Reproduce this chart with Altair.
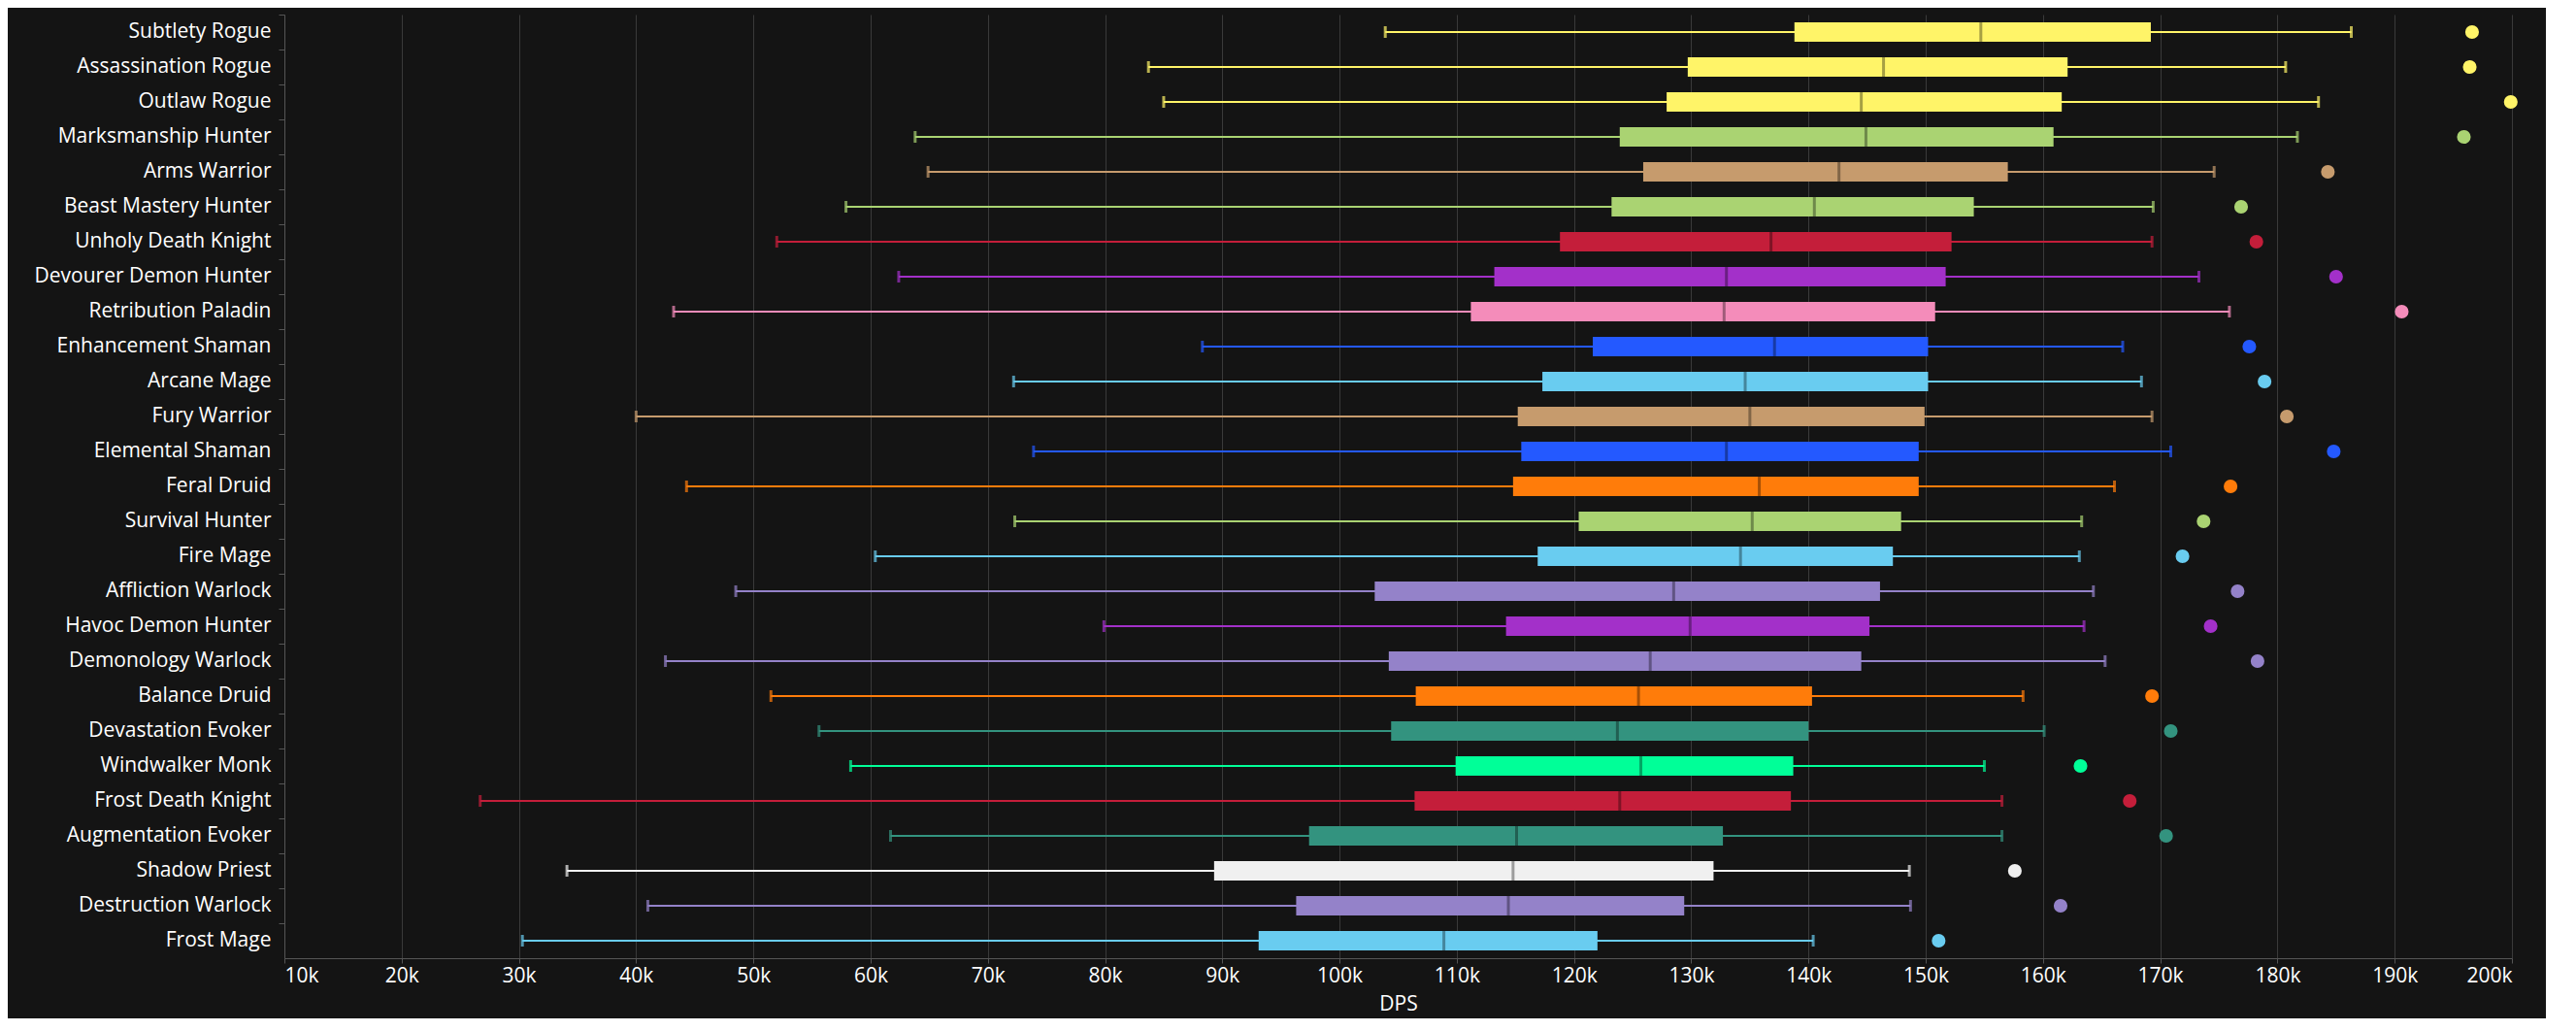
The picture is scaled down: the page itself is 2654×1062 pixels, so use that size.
import pandas as pd
import altair as alt

specs = [
    "Subtlety Rogue", "Assassination Rogue", "Outlaw Rogue", "Marksmanship Hunter",
    "Arms Warrior", "Beast Mastery Hunter", "Unholy Death Knight", "Devourer Demon Hunter",
    "Retribution Paladin", "Enhancement Shaman", "Arcane Mage", "Fury Warrior",
    "Elemental Shaman", "Feral Druid", "Survival Hunter", "Fire Mage",
    "Affliction Warlock", "Havoc Demon Hunter", "Demonology Warlock", "Balance Druid",
    "Devastation Evoker", "Windwalker Monk", "Frost Death Knight", "Augmentation Evoker",
    "Shadow Priest", "Destruction Warlock", "Frost Mage",
]
# values in k DPS
mins = [103.9, 83.7, 85.0, 63.8, 64.9, 57.9, 52.0, 62.4, 43.2, 88.3, 72.2, 40.0, 73.9, 44.3,
        72.3, 60.4, 48.5, 79.9, 42.5, 51.5, 55.6, 58.3, 26.7, 61.7, 34.1, 41.0, 30.3]
q1s = [138.8, 129.7, 127.9, 123.9, 125.9, 123.2, 118.8, 113.2, 111.2, 121.6, 117.3, 115.2, 115.5, 114.8,
       120.4, 116.9, 103.0, 114.2, 104.2, 106.5, 104.4, 109.9, 106.4, 97.4, 89.3, 96.3, 93.1]
medians = [154.7, 146.4, 144.5, 144.9, 142.6, 140.5, 136.8, 133.0, 132.8, 137.1, 134.6, 135.0, 133.0, 135.8,
           135.2, 134.2, 128.5, 129.9, 126.5, 125.5, 123.7, 125.7, 123.9, 115.1, 114.8, 114.4, 108.9]
q3s = [169.2, 162.1, 161.6, 160.9, 157.0, 154.1, 152.2, 151.7, 150.8, 150.2, 150.2, 149.9, 149.4, 149.4,
       147.9, 147.2, 146.1, 145.2, 144.5, 140.3, 140.0, 138.7, 138.5, 132.7, 131.9, 129.4, 122.0]
maxs = [186.3, 180.7, 183.5, 181.7, 174.6, 169.4, 169.3, 173.3, 175.9, 166.8, 168.4, 169.3, 170.9, 166.1,
        163.3, 163.1, 164.3, 163.5, 165.3, 158.3, 160.1, 155.0, 156.5, 156.5, 148.6, 148.7, 140.4]
outliers = [196.6, 196.4, 199.9, 195.9, 184.3, 176.9, 178.2, 185.0, 190.6, 177.6, 178.9, 180.8, 184.8, 176.0,
            173.7, 171.9, 176.6, 174.3, 178.3, 169.3, 170.9, 163.2, 167.4, 170.5, 157.6, 161.5, 151.1]
colors = ["#FFF468", "#FFF468", "#FFF468", "#AAD372", "#C69B6D", "#AAD372", "#C41E3A", "#A330C9",
          "#F48CBA", "#2459FF", "#69CCF0", "#C69B6D", "#2459FF", "#FF7C0A", "#AAD372", "#69CCF0",
          "#9482C9", "#A330C9", "#9482C9", "#FF7C0A", "#33937F", "#00FF98", "#C41E3A", "#33937F",
          "#F0F0F0", "#9482C9", "#69CCF0"]

k = 1000
df = pd.DataFrame({
    "spec": specs,
    "min": [v * k for v in mins], "q1": [v * k for v in q1s], "med": [v * k for v in medians],
    "q3": [v * k for v in q3s], "max": [v * k for v in maxs], "out": [v * k for v in outliers],
})

col = alt.Color("spec:N", scale=alt.Scale(domain=specs, range=colors), legend=None)
y = alt.Y("spec:N", sort=specs, title=None,
          axis=alt.Axis(labelFontSize=21, labelColor="#ffffff", labelFont="Open Sans", labelLimit=0,
                        tickColor="#555555", domainColor="#555555", labelPadding=8, tickSize=6,
                        bandPosition=0))
xscale = alt.Scale(domain=[10000, 200000], nice=False)
xaxis = alt.Axis(values=list(range(10000, 200001, 10000)), labelExpr="datum.value / 1000 + 'k'",
                 labelFontSize=21, labelColor="#ffffff", labelFont="Open Sans", titleFont="Open Sans",
                 titleFontSize=21, titleColor="#ffffff", titleFontWeight="normal",
                 gridColor="#3a3a3a", tickColor="#555555", domainColor="#555555", titlePadding=8)

base = alt.Chart(df)
whisker = base.mark_rule(strokeWidth=2).encode(
    x=alt.X("min:Q", scale=xscale, axis=xaxis, title="DPS"), x2="max:Q", y=y, color=col)
caps_lo = base.mark_tick(orient="vertical", size=12, thickness=3).encode(x="min:Q", y=y, color=col)
caps_hi = base.mark_tick(orient="vertical", size=12, thickness=3).encode(x="max:Q", y=y, color=col)
box = base.mark_bar(size=20).encode(x="q1:Q", x2="q3:Q", y=y, color=col)
median = base.mark_tick(orient="vertical", size=20, thickness=3, color="#000000", opacity=0.35).encode(
    x="med:Q", y=y)
dots = base.mark_circle(size=200, opacity=1).encode(x="out:Q", y=y, color=col)

chart = alt.layer(whisker, caps_lo, caps_hi, box, median, dots).properties(
    width=2295, height=972, background="#141414",
    padding={"left": 27, "top": 6, "right": 29, "bottom": 5},
).configure_view(stroke=None).configure_axisY(grid=False)

chart.save("out.html", embed_options={"renderer": "svg", "actions": False})
